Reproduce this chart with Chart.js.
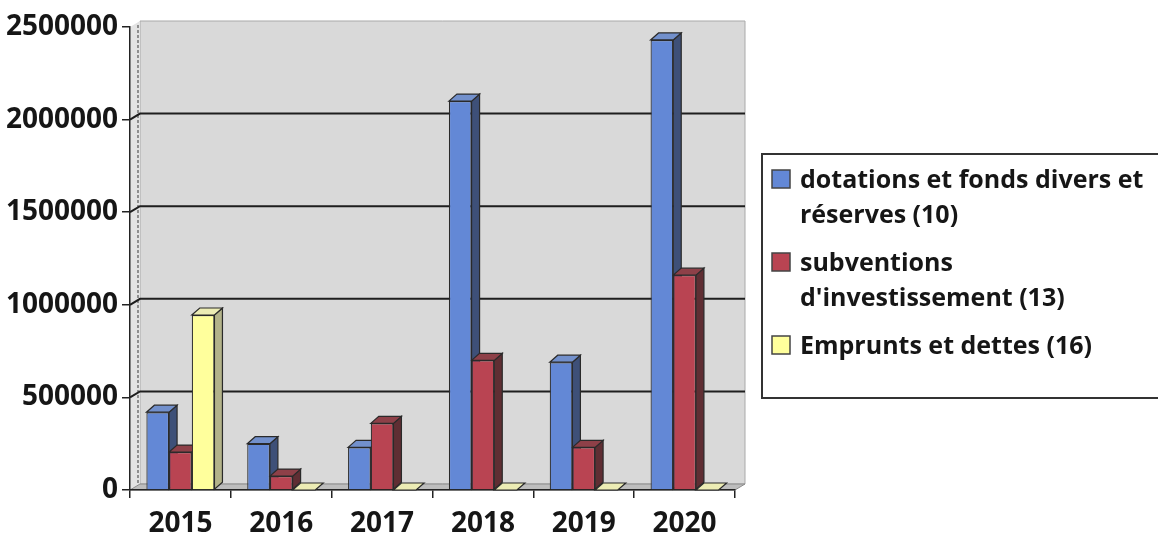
<!DOCTYPE html>
<html>
<head>
<meta charset="utf-8">
<script src="https://cdn.jsdelivr.net/npm/chart.js@4.4.1/dist/chart.umd.min.js"></script>
<style>
  html, body { margin: 0; padding: 0; background: #ffffff; }
  canvas { display: block; }
</style>
</head>
<body>
<canvas id="chart" width="1158" height="540"></canvas>
<script>
// Years on the category axis
const years = ['2015', '2016', '2017', '2018', '2019', '2020'];

// Amounts per account group
const dotations   = [420000, 250000, 230000, 2100000, 690000, 2430000];
const subventions = [205000,  75000, 360000,  700000, 230000, 1160000];
const emprunts    = [945000,      0,      0,       0,      0,       0];

// Series names, split over the lines they take in the legend box
const seriesNames = [
  ['dotations et fonds divers et', 'réserves (10)'],
  ['subventions', "d'investissement (13)"],
  ['Emprunts et dettes (16)']
];

// Value axis range and step
const yMin = 0;
const yMax = 2500000;
const yStep = 500000;

// Face colours of each series: front, side, top
const faces = [
  { front: '#6388d6', side: '#3e5078', top: '#7290cc' },
  { front: '#b94452', side: '#5f2e33', top: '#8e4048' },
  { front: '#ffff9c', side: '#b3b38a', top: '#ececb4' }
];

const FONT = "'Open Sans', 'DejaVu Sans', sans-serif";
const INK = '#161616';
const EDGE = '#2a2a2a';

// Depth of the bars and of the back wall
const BAR_DX = 8, BAR_DY = 7;
const WALL_DX = 10, WALL_DY = 6;

function poly(ctx, pts, fill, stroke, lw) {
  ctx.beginPath();
  ctx.moveTo(pts[0][0], pts[0][1]);
  for (let i = 1; i < pts.length; i++) ctx.lineTo(pts[i][0], pts[i][1]);
  ctx.closePath();
  if (fill) { ctx.fillStyle = fill; ctx.fill(); }
  if (stroke) { ctx.strokeStyle = stroke; ctx.lineWidth = lw || 1; ctx.stroke(); }
}

// Back wall, side wall, floor, wall gridlines, bar depth faces and legend box
const scene3d = {
  id: 'scene3d',
  beforeDraw(chart) {
    const { ctx, chartArea: a } = chart;
    ctx.save();
    // back wall
    poly(ctx, [
      [a.left + WALL_DX, a.top - WALL_DY], [a.right + WALL_DX, a.top - WALL_DY],
      [a.right + WALL_DX, a.bottom - WALL_DY], [a.left + WALL_DX, a.bottom - WALL_DY]
    ], '#d9d9d9', '#a9a9a9', 1);
    // left side wall
    poly(ctx, [
      [a.left, a.top], [a.left + WALL_DX, a.top - WALL_DY],
      [a.left + WALL_DX, a.bottom - WALL_DY], [a.left, a.bottom]
    ], '#e3e3e3', null);
    // floor
    poly(ctx, [
      [a.left, a.bottom], [a.left + WALL_DX, a.bottom - WALL_DY],
      [a.right + WALL_DX, a.bottom - WALL_DY], [a.right, a.bottom]
    ], '#bdbdbd', '#8c8c8c', 1);
    // back corner of the walls
    ctx.beginPath();
    ctx.setLineDash([3, 2]);
    ctx.strokeStyle = '#555';
    ctx.lineWidth = 1.2;
    ctx.moveTo(a.left + WALL_DX - 2, a.top - WALL_DY + 4);
    ctx.lineTo(a.left + WALL_DX - 2, a.bottom - WALL_DY);
    ctx.stroke();
    ctx.setLineDash([]);
    ctx.restore();
  },
  beforeDatasetsDraw(chart) {
    const { ctx, chartArea: a } = chart;
    const ys = chart.scales.y;
    ctx.save();
    // gridlines running over the side wall and the back wall
    ctx.strokeStyle = '#1e1e1e';
    ctx.lineWidth = 2;
    ys.ticks.forEach(t => {
      if (t.value <= yMin || t.value >= yMax) return;
      const py = ys.getPixelForValue(t.value);
      ctx.beginPath();
      ctx.moveTo(a.left, py);
      ctx.lineTo(a.left + WALL_DX, py - WALL_DY);
      ctx.lineTo(a.right + WALL_DX, py - WALL_DY);
      ctx.stroke();
    });
    // side and top faces, category by category in series order
    const n = chart.data.datasets.length;
    for (let j = 0; j < chart.data.labels.length; j++) {
      for (let i = 0; i < n; i++) {
        const el = chart.getDatasetMeta(i).data[j];
        if (!el) continue;
        const p = el.getProps(['x', 'y', 'base', 'width'], true);
        const l = p.x - p.width / 2, r = p.x + p.width / 2;
        const top = Math.min(p.y, p.base), base = Math.max(p.y, p.base);
        const f = faces[i];
        if (base - top > 0.5) {
          poly(ctx, [[r, top], [r + BAR_DX, top - BAR_DY], [r + BAR_DX, base - BAR_DY], [r, base]], f.side, EDGE, 1.2);
        }
        poly(ctx, [[l, top], [l + BAR_DX, top - BAR_DY], [r + BAR_DX, top - BAR_DY], [r, top]], f.top, EDGE, 1.2);
      }
    }
    ctx.restore();
  },
  afterDraw(chart) {
    const { ctx } = chart;
    ctx.save();
    // legend frame, running off the right edge
    ctx.strokeStyle = '#333';
    ctx.lineWidth = 2;
    ctx.strokeRect(762, 154, 420, 244);
    ctx.font = 'bold 25px ' + FONT;
    ctx.textBaseline = 'alphabetic';
    ctx.textAlign = 'left';
    let baseline = 188;
    chart.data.datasets.forEach((ds, i) => {
      ctx.fillStyle = ds.backgroundColor;
      ctx.fillRect(772, baseline - 18, 18, 18);
      ctx.strokeStyle = '#444';
      ctx.lineWidth = 1.5;
      ctx.strokeRect(772, baseline - 18, 18, 18);
      ctx.fillStyle = INK;
      seriesNames[i].forEach((line, k) => {
        ctx.fillText(line, 800, baseline);
        if (k < seriesNames[i].length - 1) baseline += 35;
      });
      baseline += 48;
    });
    ctx.restore();
  }
};

const tickFont = { family: FONT, size: 28, weight: 'bold' };

new Chart(document.getElementById('chart'), {
  type: 'bar',
  data: {
    labels: years,
    datasets: [dotations, subventions, emprunts].map((vals, i) => ({
      label: seriesNames[i].join(' '),
      data: vals,
      backgroundColor: faces[i].front,
      borderColor: EDGE,
      borderWidth: 1.2,
      borderSkipped: 'start',
      categoryPercentage: 0.675,
      barPercentage: 1.0
    }))
  },
  options: {
    responsive: false,
    animation: false,
    devicePixelRatio: 1,
    layout: { padding: { left: 0, top: 27, right: 423, bottom: 0 } },
    plugins: {
      legend: { display: false },
      tooltip: { enabled: false },
      title: { display: false }
    },
    scales: {
      x: {
        grid: { offset: true, drawOnChartArea: false, drawTicks: true, tickLength: 8, color: '#222', lineWidth: 1.5 },
        border: { display: true, color: '#222', width: 1.5 },
        ticks: { font: tickFont, color: INK, padding: 9, maxRotation: 0 },
        afterFit(s) { s.height = 50; }
      },
      y: {
        min: yMin,
        max: yMax,
        grid: { drawOnChartArea: false, drawTicks: true, tickLength: 8, color: '#222', lineWidth: 1.5 },
        border: { display: true, color: '#222', width: 1.5 },
        ticks: { stepSize: yStep, font: tickFont, color: INK, padding: 4, callback: v => String(v) },
        afterFit(s) { s.width = 130; }
      }
    }
  },
  plugins: [scene3d]
});
</script>
</body>
</html>
